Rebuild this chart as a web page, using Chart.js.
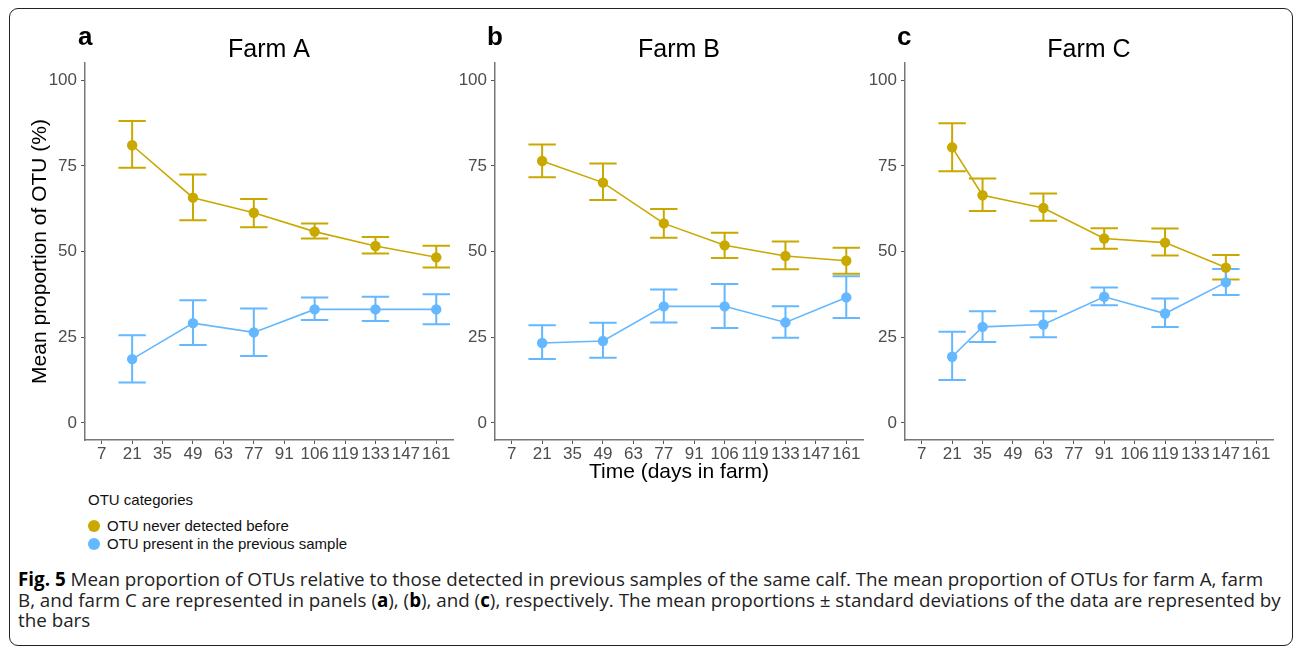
<!DOCTYPE html>
<html>
<head>
<meta charset="utf-8">
<script src="https://cdn.jsdelivr.net/npm/chart.js@4.4.1/dist/chart.umd.min.js"></script>
<style>
  body { margin: 0; width: 1295px; height: 651px; overflow: hidden; background: #fff; position: relative;
         font-family: "Liberation Sans", Arial, sans-serif; }
  .frame { position: absolute; left: 9px; top: 8px; width: 1284px; height: 638px; box-sizing: border-box;
           border: 1.5px solid #222; border-radius: 9px; }
  canvas { position: absolute; top: 10px; }
  .letter { position: absolute; top: 23px; font-size: 26px; line-height: 26px; font-weight: bold; color: #000; }
  .legend { position: absolute; left: 88px; top: 491px; font-size: 15px; color: #111; }
  .legend div { height: 18.5px; line-height: 18.5px; white-space: nowrap; }
  .legend .dot { display: inline-block; width: 12px; height: 12px; border-radius: 50%; margin: 0 7px 0 0; vertical-align: -1px; }
  .items { margin-top: 7px; }
  .caption { position: absolute; left: 18px; top: 569px; font-family: "Open Sans", sans-serif; font-size: 18.8px;
             line-height: 20.5px; color: #222; white-space: nowrap; }
  .caption b { color: #000; }
</style>
</head>
<body>
<div class="frame"></div>

<canvas id="farmA" width="498" height="480" style="left:20px"></canvas>
<canvas id="farmB" width="448" height="480" style="left:455px"></canvas>
<canvas id="farmC" width="420" height="480" style="left:865px"></canvas>

<div class="letter" style="left:78px">a</div>
<div class="letter" style="left:487px">b</div>
<div class="letter" style="left:897px">c</div>

<div class="legend">
  <div>OTU categories</div>
  <div class="items">
    <div><span class="dot" style="background:#C9A800"></span>OTU never detected before</div>
    <div><span class="dot" style="background:#63B8FF"></span>OTU present in the previous sample</div>
  </div>
</div>

<div class="caption">
  <b>Fig. 5</b> Mean proportion of OTUs relative to those detected in previous samples of the same calf. The mean proportion of OTUs for farm A, farm<br>
  B, and farm C are represented in panels (<b>a</b>), (<b>b</b>), and (<b>c</b>), respectively. The mean proportions ± standard deviations of the data are represented by<br>
  the bars
</div>

<script>
// tick labels on the x axis (sampling days, shown as equally spaced categories)
const dayTicks = ['7', '21', '35', '49', '63', '77', '91', '106', '119', '133', '147', '161'];
const yTicks = [0, 25, 50, 75, 100];

const seriesNames = ['OTU never detected before', 'OTU present in the previous sample'];
const seriesColors = ['#C9A800', '#63B8FF'];

// Farm A
const daysA = ['21', '49', '77', '106', '133', '161'];
const newA = [81.0, 65.7, 61.3, 55.8, 51.6, 48.3];
const newLoA = [74.4, 59.1, 57.1, 53.8, 49.4, 45.3];
const newHiA = [88.1, 72.5, 65.3, 58.2, 54.2, 51.7];
const prevA = [18.6, 29.1, 26.4, 33.1, 33.1, 33.1];
const prevLoA = [11.8, 22.7, 19.5, 30.0, 29.7, 28.8];
const prevHiA = [25.6, 35.8, 33.4, 36.6, 36.8, 37.5];

// Farm B
const daysB = ['21', '49', '77', '106', '133', '161'];
const newB = [76.4, 70.1, 58.2, 51.8, 48.7, 47.3];
const newLoB = [71.7, 65.0, 54.0, 48.1, 44.8, 43.5];
const newHiB = [81.2, 75.7, 62.4, 55.5, 52.9, 51.1];
const prevB = [23.3, 23.9, 34.0, 34.0, 29.3, 36.6];
const prevLoB = [18.6, 19.0, 29.3, 27.7, 24.8, 30.6];
const prevHiB = [28.5, 29.2, 38.9, 40.5, 34.0, 42.8];

// Farm C
const daysC = ['21', '35', '63', '91', '119', '147'];
const newC = [80.4, 66.4, 62.7, 53.8, 52.6, 45.3];
const newLoC = [73.4, 61.8, 59.0, 50.8, 48.8, 41.8];
const newHiC = [87.4, 71.3, 66.9, 56.8, 56.7, 49.0];
const prevC = [19.3, 28.0, 28.7, 36.8, 31.9, 41.0];
const prevLoC = [12.5, 23.6, 25.0, 34.3, 28.0, 37.3];
const prevHiC = [26.6, 32.6, 32.6, 39.5, 36.3, 44.9];

const FONT = '"Liberation Sans", Arial, sans-serif';

// draws mean ± sd bars under the points
const errorBars = {
    id: 'errorBars',
    beforeDatasetsDraw(chart) {
        const ctx = chart.ctx;
        const xs = chart.scales.x, ys = chart.scales.y;
        chart.data.datasets.forEach((ds) => {
            ctx.save();
            ctx.strokeStyle = ds.borderColor;
            ctx.lineWidth = 2;
            ds.data.forEach((p) => {
                const px = xs.getPixelForValue(p.x);
                const half = xs.getPixelForValue(p.x + 0.45) - px;
                const top = ys.getPixelForValue(p.hi);
                const bot = ys.getPixelForValue(p.lo);
                ctx.beginPath();
                ctx.moveTo(px, top); ctx.lineTo(px, bot);
                ctx.moveTo(px - half, top); ctx.lineTo(px + half, top);
                ctx.moveTo(px - half, bot); ctx.lineTo(px + half, bot);
                ctx.stroke();
            });
            ctx.restore();
        });
    }
};

function toPoints(days, mean, lo, hi) {
    return days.map((d, i) => ({ x: dayTicks.indexOf(d), y: mean[i], lo: lo[i], hi: hi[i] }));
}

function makePanel(id, title, sets, yWidth, padRight, yTitle, xTitle) {
    const datasets = sets.map((s, i) => ({
        label: seriesNames[i],
        data: s,
        borderColor: seriesColors[i],
        backgroundColor: seriesColors[i],
        borderWidth: 1.6,
        pointRadius: 5.2,
        pointBorderWidth: 0,
        tension: 0,
    }));
    new Chart(document.getElementById(id).getContext('2d'), {
        type: 'line',
        data: { datasets: datasets },
        plugins: [errorBars],
        options: {
            responsive: false,
            animation: false,
            devicePixelRatio: 1,
            layout: { padding: { left: 0, right: padRight, top: 0, bottom: 0 } },
            plugins: {
                legend: { display: false },
                tooltip: { enabled: false },
                title: {
                    display: true,
                    fullSize: false, // centre over the plot area, not the canvas
                    text: title,
                    color: '#000',
                    font: { family: FONT, size: 25, weight: 'normal', lineHeight: 1.04 },
                    padding: { top: 27, bottom: 0 },
                },
            },
            scales: {
                x: {
                    type: 'linear',
                    min: -0.55,
                    max: 11.55,
                    afterBuildTicks: (s) => { s.ticks = dayTicks.map((_, i) => ({ value: i })); },
                    afterFit: (s) => { s.height = 50; },
                    ticks: {
                        autoSkip: false,
                        maxRotation: 0,
                        padding: 0,
                        color: '#4D4D4D',
                        font: { family: FONT, size: 17 },
                        callback: (v) => dayTicks[v],
                    },
                    grid: { drawOnChartArea: false, drawTicks: true, tickLength: 4, tickColor: '#555' },
                    border: { display: true, color: '#777', width: 1.5 },
                    title: {
                        display: !!xTitle,
                        text: xTitle || '',
                        color: '#000',
                        font: { family: FONT, size: 21 },
                        padding: { top: 0, bottom: 5 },
                    },
                },
                y: {
                    min: -5,
                    max: 105,
                    afterBuildTicks: (s) => { s.ticks = yTicks.map((v) => ({ value: v })); },
                    afterFit: (s) => { s.width = yWidth; },
                    ticks: {
                        padding: 4,
                        color: '#4D4D4D',
                        font: { family: FONT, size: 17 },
                    },
                    grid: { drawOnChartArea: false, drawTicks: true, tickLength: 4, tickColor: '#555' },
                    border: { display: true, color: '#777', width: 1.5 },
                    title: {
                        display: !!yTitle,
                        text: yTitle || '',
                        color: '#000',
                        font: { family: FONT, size: 21 },
                        padding: { top: 8, bottom: 0 },
                    },
                },
            },
        },
    });
}

makePanel('farmA', 'Farm A', [
    toPoints(daysA, newA, newLoA, newHiA),
    toPoints(daysA, prevA, prevLoA, prevHiA),
], 65, 65, 'Mean proportion of OTU (%)', null);

makePanel('farmB', 'Farm B', [
    toPoints(daysB, newB, newLoB, newHiB),
    toPoints(daysB, prevB, prevLoB, prevHiB),
], 40, 40, null, 'Time (days in farm)');

makePanel('farmC', 'Farm C', [
    toPoints(daysC, newC, newLoC, newHiC),
    toPoints(daysC, prevC, prevLoC, prevHiC),
], 40, 12, null, null);
</script>
</body>
</html>
